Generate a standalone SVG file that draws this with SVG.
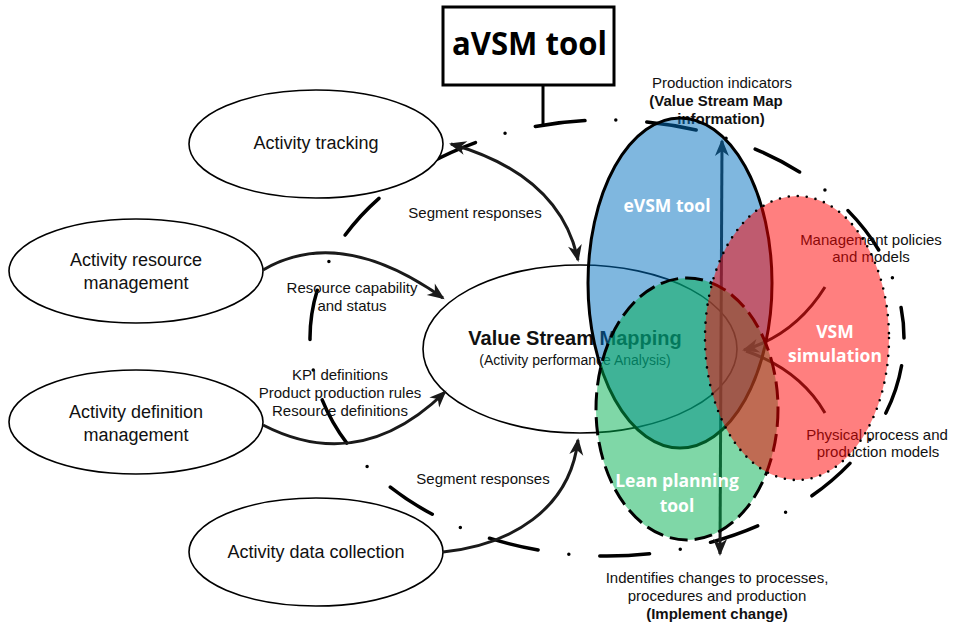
<svg xmlns="http://www.w3.org/2000/svg" width="954" height="622" viewBox="0 0 954 622">
  <style>
    .node ellipse { fill:#ffffff; stroke:#000000; stroke-width:1.6; }
    .t { font-family:"Liberation Sans", Arial, sans-serif; fill:#111111; text-anchor:middle; }
    .n { font-size:18px; }
    .s { font-size:15px; }
    .b { font-weight:bold; }
    .w { font-family:"Open Sans", "Liberation Sans", sans-serif; font-weight:bold; fill:#ffffff; font-size:17.5px; text-anchor:middle; }
    .conn { fill:none; stroke:#1a1a1a; stroke-width:3; }
  </style>
  <defs>
    <marker id="ah" viewBox="-18 -8 21 16" refX="0" refY="0" markerWidth="21" markerHeight="16" markerUnits="userSpaceOnUse" orient="auto-start-reverse">
      <path d="M2,0 L-15,-7 L-10,0 L-15,7 Z" fill="#1a1a1a"/>
    </marker>
  </defs>

  <!-- big dash-dot boundary -->
  <g id="boundary">
    <ellipse cx="607" cy="338" rx="297" ry="218" fill="none" stroke="#000" stroke-width="3.5" stroke-linecap="round" stroke-dasharray="50 31 0 31" stroke-dashoffset="84"/>
  </g>

  <!-- aVSM tool -->
  <g id="avsm">
    <rect x="443" y="7" width="171" height="78" fill="#fff" stroke="#000" stroke-width="3"/>
    <text x="529.5" y="55" font-family="'Open Sans', 'Liberation Sans', sans-serif" font-weight="bold" font-size="32" text-anchor="middle" textLength="155" lengthAdjust="spacingAndGlyphs" fill="#000">aVSM tool</text>
    <line x1="543" y1="85" x2="543" y2="124" stroke="#000" stroke-width="3"/>
  </g>

  <!-- left nodes -->
  <g id="activity-tracking" class="node">
    <ellipse cx="316" cy="144" rx="127" ry="54"/>
    <text class="t n" x="316" y="149">Activity tracking</text>
  </g>
  <g id="activity-resource" class="node">
    <ellipse cx="136" cy="271" rx="127" ry="52"/>
    <text class="t n" x="136" y="266">Activity resource</text>
    <text class="t n" x="136" y="289">management</text>
  </g>
  <g id="activity-definition" class="node">
    <ellipse cx="136" cy="422" rx="127" ry="52"/>
    <text class="t n" x="136" y="418">Activity definition</text>
    <text class="t n" x="136" y="441">management</text>
  </g>
  <g id="activity-data" class="node">
    <ellipse cx="316" cy="552" rx="127" ry="54"/>
    <text class="t n" x="316" y="558">Activity data collection</text>
  </g>

  <!-- centre node -->
  <g id="vsm" class="node">
    <ellipse cx="580" cy="349" rx="157" ry="84"/>
    <text class="t b" font-size="20" x="575" y="345">Value Stream Mapping</text>
    <text class="t" font-size="14" x="575" y="365">(Activity performance Analysis)</text>
  </g>

  <!-- connectors -->
  <g id="connectors">
    <path class="conn" d="M451,144 Q560,175 578,260" marker-start="url(#ah)" marker-end="url(#ah)"/>
    <path class="conn" d="M263,270 Q340,225 443,298" marker-end="url(#ah)"/>
    <path class="conn" d="M263,425 Q360,475 445,392" marker-end="url(#ah)"/>
    <path class="conn" d="M443,552 C510,545 570,510 578,440" marker-end="url(#ah)"/>
    <path class="conn" d="M722,141 L720,554" marker-start="url(#ah)" marker-end="url(#ah)"/>
    <path class="conn" d="M825,287 Q795,335 744,350" marker-end="url(#ah)"/>
    <path class="conn" d="M825,413 Q800,370 746,351"/>
  </g>

  <!-- connector labels -->
  <g id="labels">
    <text class="t s" x="475" y="218">Segment responses</text>
    <text class="t s" x="352" y="293">Resource capability</text>
    <text class="t s" x="352" y="311">and status</text>
    <text class="t s" x="340" y="380">KPI definitions</text>
    <text class="t s" x="340" y="398">Product production rules</text>
    <text class="t s" x="340" y="416">Resource definitions</text>
    <text class="t s" x="483" y="484">Segment responses</text>
    <text class="t s" x="722" y="88">Production indicators</text>
    <text class="t s b" x="716" y="106">(Value Stream Map</text>
    <text class="t s b" x="721" y="124">information)</text>
    <text class="t s" x="717" y="583">Indentifies changes to processes,</text>
    <text class="t s" x="717" y="601">procedures and production</text>
    <text class="t s b" x="717" y="619">(Implement change)</text>
    <text class="t s" x="871" y="245">Management policies</text>
    <text class="t s" x="871" y="262">and models</text>
    <text class="t s" x="877" y="440">Physical process and</text>
    <text class="t s" x="878" y="457">production models</text>
  </g>

  <!-- overlapping tool ellipses -->
  <g id="evsm-tool">
    <ellipse cx="680" cy="283" rx="92" ry="165" fill="#0070c0" fill-opacity="0.5" stroke="#000" stroke-width="3"/>
  </g>
  <g id="lean-planning-tool">
    <ellipse cx="687" cy="409" rx="91" ry="131" fill="#00b050" fill-opacity="0.5" stroke="#000" stroke-width="3" stroke-dasharray="18 7"/>
  </g>
  <g id="vsm-simulation">
    <ellipse cx="797" cy="338" rx="92" ry="142" fill="#ff0000" fill-opacity="0.5" stroke="#000" stroke-width="2.6" stroke-linecap="round" stroke-dasharray="0 9"/>
  </g>

  <g id="tool-labels">
    <text class="w" x="667" y="212" font-size="18.5">eVSM tool</text>
    <text class="w" x="835" y="338">VSM</text>
    <text class="w" x="835" y="362">simulation</text>
    <text class="w" x="677" y="487">Lean planning</text>
    <text class="w" x="677" y="512">tool</text>
  </g>
</svg>
